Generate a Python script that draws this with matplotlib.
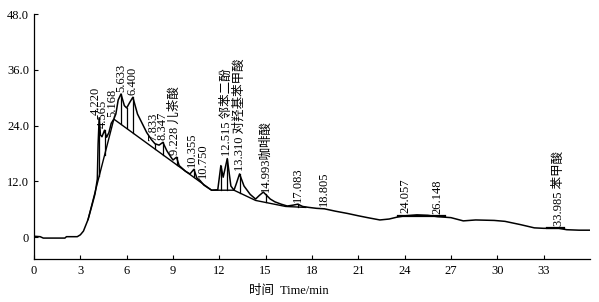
import numpy as np
import matplotlib.pyplot as plt

plt.rcParams['font.family'] = ['Liberation Serif', 'Noto Sans CJK SC']
plt.rcParams['font.size'] = 9

# chromatogram trace (time in min, response)
sig_t = [0, 0.4, 0.6, 2.0, 2.1, 2.8, 3.0, 3.2, 3.5, 3.75, 3.95, 4.10, 4.15, 4.22,
         4.30, 4.40, 4.565, 4.70, 4.85, 5.0, 5.168, 5.3, 5.45, 5.633, 5.85, 6.0,
         6.2, 6.4, 6.7, 7.0, 7.3, 7.6, 7.833, 8.1, 8.347, 8.6, 8.85, 9.0, 9.228,
         9.4, 9.8, 10.1, 10.355, 10.55, 10.75, 11.0, 11.5, 11.9, 12.1, 12.25,
         12.515, 12.75, 12.95, 13.1, 13.31, 13.6, 14.0, 14.35, 14.6, 14.85, 15.3,
         15.6, 16.0, 16.4, 16.8, 17.083, 17.4, 17.8, 18.3, 18.805, 19.5, 20.3,
         21.0, 21.6, 22.4, 23.0, 23.5, 24.057, 24.8, 25.5, 26.148, 27.0, 27.8,
         28.6, 29.8, 30.5, 31.5, 32.4, 33.0, 33.985, 34.5, 35.3, 36.0]
sig_y = [0.2, 0.1, -0.2, -0.2, 0.1, 0.1, 0.5, 1.3, 3.8, 6.8, 9.3, 12.5, 20.0, 25.7,
         22.0, 21.6, 23.0, 21.5, 22.5, 24.5, 25.4, 26.5, 29.5, 30.8, 28.3, 27.8,
         29.0, 30.1, 26.5, 24.5, 22.5, 21.0, 20.1, 19.8, 20.4, 18.6, 17.3, 16.6,
         17.2, 15.4, 14.2, 13.6, 14.6, 12.7, 12.2, 11.2, 10.1, 10.2, 15.4, 12.9,
         16.9, 11.0, 10.1, 11.5, 13.6, 11.0, 9.2, 8.2, 9.0, 9.7, 8.2,
         7.6, 7.1, 6.7, 6.9, 7.1, 6.6, 6.4, 6.2, 6.1, 5.6, 5.1,
         4.6, 4.2, 3.7, 3.9, 4.3, 4.6, 4.8, 4.7, 4.4, 4.2, 3.5,
         3.7, 3.6, 3.4, 2.7, 2.0, 1.9, 1.9, 1.6, 1.5, 1.5]

# integration baseline
base_t = [3.5, 5.168, 11.5, 12.95, 14.35, 16.3, 17.6]
base_y = [3.8, 25.4, 10.1, 10.1, 7.9, 6.6, 6.4]

peak_t = [4.220, 4.565, 5.168, 5.633, 6.400, 7.833, 8.347, 9.228, 10.355, 10.750,
          12.515, 13.310, 14.993, 17.083, 18.805, 24.057, 26.148, 33.985]
peak_lab = ['4.220', '4.565', '5.168', '5.633', '6.400', '7.833', '8.347',
            '9.228 儿茶酸', '10.355', '10.750', '12.515 邻苯二酚',
            '13.310 对羟基苯甲酸', '14.993咖啡酸', '17.083', '18.805',
            '24.057', '26.148', '33.985 苯甲酸']
split_t = [6.0, 12.1]

xticks = [0, 3, 6, 9, 12, 15, 18, 21, 24, 27, 30, 33]
yticks = [0, 12, 24, 36, 48]
ylabels = ['0', '12.0', '24.0', '36.0', '48.0']

# small sideways nudges (pixels) for crowded labels
nudge = {'4.220': -3, '4.565': -2, '5.168': -2, '7.833': -1.5,
         '9.228 儿茶酸': -2, '10.355': -1.5, '10.750': 2.5}

fig = plt.figure(figsize=(5.99, 3.02), dpi=100)
ax = fig.add_axes([0.0568, 0.1424, 0.928, 0.811])

ax.plot(sig_t, sig_y, color='black', lw=1.1)
ax.plot(base_t, base_y, color='black', lw=1.0)
ax.plot([23.6, 26.6], [4.5, 4.5], color='black', lw=1.6)
ax.plot([33.2, 34.3], [1.9, 1.9], color='black', lw=1.6)

# drop lines from trace to baseline
for t in list(peak_t) + split_t:
    if base_t[0] <= t <= base_t[-1]:
        top = np.interp(t, sig_t, sig_y)
        bot = np.interp(t, base_t, base_y)
        if top - bot > 0.3:
            ax.plot([t, t], [bot, top], color='black', lw=0.9)

for t, lab in zip(peak_t, peak_lab):
    h = np.interp(t, sig_t, sig_y)
    ax.annotate(lab, (t, h), xytext=(nudge.get(lab, 0), 2.5),
                textcoords='offset pixels', rotation=90,
                ha='center', va='bottom', fontsize=9)

ax.set_xlim(0, 36)
ax.set_ylim(-4.7, 48)
ax.set_xticks(xticks)
ax.set_yticks(yticks)
ax.set_yticklabels(ylabels)
ax.tick_params(direction='in', length=3, width=0.8, labelsize=9)
ax.tick_params(axis='x', pad=4)
for s in ['top', 'right']:
    ax.spines[s].set_visible(False)
ax.spines['left'].set_linewidth(0.9)
ax.spines['bottom'].set_linewidth(0.9)

ax.set_xlabel('时间  Time/min', fontsize=9)
ax.xaxis.set_label_coords(0.459, -0.105)

fig.savefig('out.png', dpi=100)
